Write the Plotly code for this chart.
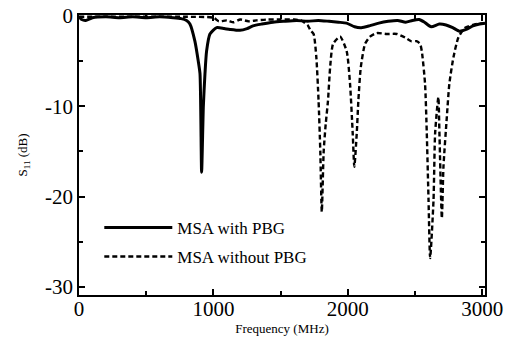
import plotly.graph_objects as go

# MSA with PBG (solid)
freq_pbg = [0, 20, 50, 100, 200, 300, 400, 500, 600, 700, 760, 800, 825, 862, 887, 900, 912, 925, 937, 949, 974,
            1024, 1080, 1123, 1197, 1250, 1294, 1360, 1443, 1520, 1619, 1700, 1780, 1860, 1930, 1990, 2050, 2100,
            2160, 2230, 2300, 2370, 2430, 2480, 2530, 2570, 2620, 2680, 2730, 2780, 2830, 2880, 2930, 2980, 3020]
db_pbg = [-0.1, -0.4, -0.5, -0.2, -0.1, -0.2, -0.1, -0.2, -0.1, -0.2, -0.3, -0.5, -0.9, -2.8, -5.0, -6.4, -17.3,
          -10.0, -6.4, -3.9, -2.0, -1.3, -1.4, -1.5, -1.6, -1.4, -1.1, -0.9, -0.7, -0.6, -0.5, -0.6, -0.5, -0.6,
          -0.7, -0.8, -1.2, -1.3, -1.1, -0.8, -0.6, -0.5, -0.7, -0.5, -0.4, -0.7, -1.2, -0.9, -1.0, -1.3, -1.7,
          -1.5, -1.1, -0.9, -0.8]

# MSA without PBG (dashed)
freq_nopbg = [0, 200, 400, 600, 800, 1000, 1040, 1100, 1150, 1200, 1260, 1320, 1400, 1500, 1600, 1650, 1700, 1722,
              1745, 1765, 1782, 1795, 1806, 1820, 1835, 1852, 1868, 1890, 1942, 1991, 2016, 2036, 2048, 2066, 2078,
              2096, 2128, 2165, 2215, 2289, 2364, 2426, 2470, 2510, 2537, 2550, 2574, 2587, 2600, 2612, 2637, 2649,
              2673, 2681, 2699, 2711, 2736, 2755, 2785, 2822, 2872, 2959, 3020]
db_nopbg = [-0.1, -0.1, -0.1, -0.1, -0.1, -0.2, -0.6, -0.5, -0.7, -0.4, -0.6, -0.5, -0.4, -0.4, -0.4, -0.5, -1.0,
            -1.6, -2.0, -4.5, -9.4, -15.0, -21.7, -15.0, -12.0, -9.4, -5.7, -3.1, -2.3, -3.9, -7.5, -13.0, -16.7,
            -13.0, -9.4, -5.7, -3.1, -2.3, -1.9, -2.0, -2.0, -2.4, -2.8, -2.8, -3.1, -3.9, -7.5, -13.0, -20.4,
            -26.8, -20.4, -13.0, -9.0, -13.0, -22.4, -16.7, -11.2, -7.5, -4.6, -2.4, -1.3, -0.9, -0.8]

x_tickvals = [0, 1000, 2000, 3000]
x_ticktext = ["0", "1000", "2000", "3000"]
y_tickvals = [0, -10, -20, -30]
y_ticktext = ["0", "-10", "-20", "-30"]

serif = "Liberation Serif"

fig = go.Figure()
fig.add_trace(go.Scatter(x=freq_pbg, y=db_pbg, mode="lines", name="MSA with PBG",
                         line=dict(color="black", width=3, shape="spline", smoothing=0.6),
                         legendgroup="a"))
fig.add_trace(go.Scatter(x=freq_nopbg, y=db_nopbg, mode="lines", name="MSA without PBG",
                         line=dict(color="black", width=2.4, dash="5px,3px", shape="spline", smoothing=0.6),
                         legendgroup="b"))

axis_common = dict(showline=True, linecolor="black", linewidth=1.6, mirror="ticks", ticks="inside",
                   ticklen=6, tickwidth=1.5, tickcolor="black", showgrid=False, zeroline=False,
                   automargin=False, tickfont=dict(family=serif, size=21, color="black"))

fig.update_layout(
    width=509, height=353,
    margin=dict(l=79, r=24, t=15, b=58),
    paper_bgcolor="white", plot_bgcolor="white",
    showlegend=True,
    legend=dict(x=0.05, y=0.304, xanchor="left", yanchor="top", bgcolor="rgba(0,0,0,0)",
                font=dict(family=serif, size=17, color="black"), traceorder="grouped",
                tracegroupgap=4, itemwidth=68),
    xaxis=dict(range=[0, 3020], tickvals=x_tickvals, ticktext=x_ticktext, ticklabelstandoff=-6,
               minor=dict(dtick=500, ticks="inside", ticklen=4, tickcolor="black"),
               title=dict(text="Frequency (MHz)", font=dict(family=serif, size=13, color="black"), standoff=4),
               **axis_common),
    yaxis=dict(range=[-30.9, 0.1], tickvals=y_tickvals, ticktext=y_ticktext, ticklabelstandoff=0,
               minor=dict(dtick=5, ticks="inside", ticklen=4, tickcolor="black"),
               title=dict(text="S<sub>11</sub> (dB)", font=dict(family=serif, size=13, color="black"), standoff=14),
               **axis_common),
)

fig.write_html("out.html", config={"displayModeBar": False},
               post_script="document.body.style.margin='0';document.body.style.overflow='hidden';")
